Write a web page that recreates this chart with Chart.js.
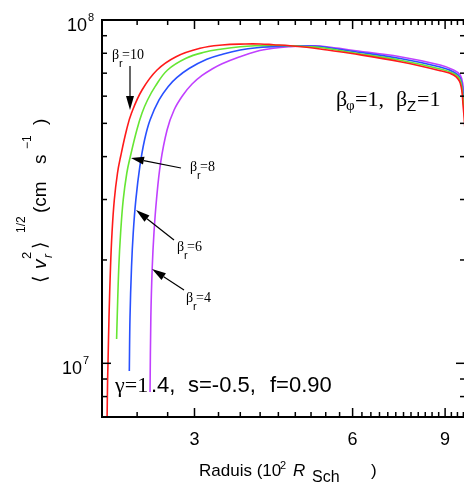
<!DOCTYPE html>
<html><head><meta charset="utf-8">
<script src="https://cdn.jsdelivr.net/npm/chart.js"></script>
<style>html,body{margin:0;padding:0;overflow:hidden;background:#fff}#wrap{width:466px;height:487px}</style>
</head><body><div id="wrap"><canvas id="c" width="466" height="487" style="width:466px;height:487px"></canvas></div>
<script>
// ---- data (x in 10^2 R_Sch, y in cm/s) ----
const xRed = [2.0443, 2.0497, 2.0533, 2.0624, 2.0760, 2.0897, 2.1108, 2.1407, 2.1691, 2.2270, 2.2763, 2.3837, 2.546, 2.767, 3.074, 3.386, 3.746, 4.000, 4.240, 4.562, 4.909, 5.204, 5.936, 7.391, 8.808, 9.338, 9.616, 9.743, 9.82];
const yRed = [6.61e6, 8.941e6, 1.0e7, 1.3643e7, 1.9079e7, 2.3965e7, 2.9911e7, 3.5838e7, 3.9895e7, 4.7825e7, 5.359e7, 6.254e7, 7.152e7, 7.819e7, 8.272e7, 8.457e7, 8.514e7, 8.514e7, 8.474e7, 8.418e7, 8.328e7, 8.234e7, 7.999e7, 7.561e7, 7.119e7, 6.916e7, 6.555e7, 5.58e7, 4.78e7];

const xGreen = [2.1322, 2.1379, 2.1529, 2.1700, 2.1949, 2.2299, 2.2633, 2.3299, 2.3837, 2.4420, 2.5238, 2.6660, 2.8909, 3.1287, 3.386, 3.665, 3.943, 4.240, 4.562, 4.909, 5.204, 5.936, 7.391, 8.808, 9.338, 9.616, 9.743, 9.82];
const yGreen = [1.1770e7, 1.3643e7, 1.9079e7, 2.3965e7, 2.9911e7, 3.5838e7, 3.9895e7, 4.7825e7, 5.359e7, 5.848e7, 6.394e7, 7.152e7, 7.736e7, 8.053e7, 8.234e7, 8.361e7, 8.418e7, 8.440e7, 8.418e7, 8.361e7, 8.317e7, 8.058e7, 7.633e7, 7.200e7, 6.986e7, 6.688e7, 5.848e7, 5.11e7];

const xBlue = [2.2544, 2.2613, 2.2763, 2.2934, 2.3197, 2.3606, 2.4100, 2.4689, 2.5684, 2.6719, 2.7790, 2.9294, 3.166, 3.405, 3.665, 3.943, 4.240, 4.562, 4.909, 5.204, 5.936, 7.391, 8.808, 9.338, 9.616, 9.743, 9.82];
const yBlue = [9.496e6, 1.3643e7, 1.9079e7, 2.3965e7, 2.9911e7, 3.7386e7, 4.4716e7, 5.1139e7, 5.848e7, 6.394e7, 6.802e7, 7.2211e7, 7.684e7, 7.962e7, 8.179e7, 8.306e7, 8.361e7, 8.401e7, 8.401e7, 8.372e7, 8.124e7, 7.727e7, 7.297e7, 7.057e7, 6.778e7, 6.129e7, 5.47e7];

const xPurple = [2.4689, 2.4776, 2.4929, 2.5116, 2.5393, 2.5854, 2.6602, 2.7432, 2.8530, 2.9682, 3.1014, 3.2400, 3.386, 3.6486, 3.9311, 4.240, 4.562, 4.909, 5.204, 5.936, 7.391, 8.808, 9.338, 9.616, 9.743, 9.82];
const yPurple = [8.249e6, 1.3643e7, 1.9079e7, 2.3965e7, 2.9911e7, 3.8322e7, 4.7825e7, 5.4686e7, 6.0453e7, 6.5113e7, 6.8938e7, 7.1973e7, 7.4561e7, 7.8028e7, 8.0964e7, 8.272e7, 8.361e7, 8.401e7, 8.401e7, 8.179e7, 7.819e7, 7.396e7, 7.152e7, 6.916e7, 6.394e7, 5.85e7];

const seriesNames = ['βr=10', 'βr=8', 'βr=6', 'βr=4'];
const xTicksMajor = [3, 6, 9];
const xTickLabels = ['3', '6', '9'];
const xTicksMinor = [2.333, 2.667, 3.333, 3.667, 4, 4.333, 4.667, 5, 5.333, 5.667, 6.25, 6.5, 6.75, 7, 7.25, 7.5, 7.75, 8, 8.25, 8.5, 8.75, 9.25, 9.5, 9.75];
const yTicksMajor = [1e7, 1e8];
const yTickBase = ['10', '10'];
const yTickExp = ['7', '8'];
const yTicksMinor = [8e6, 9e6, 2e7, 3e7, 4e7, 5e7, 6e7, 7e7, 8e7, 9e7];
const xRange = [2.0, 9.82];
const yRange = [6.976e6, 1e8];

function pts(xs, ys) { return xs.map((v, i) => ({x: v, y: ys[i]})); }

const SANS = '"Liberation Sans", Arial, sans-serif';
const SERIF = '"Liberation Serif", "Times New Roman", serif';

function txt(ctx, s, font, x, y, align) {
  ctx.font = font; ctx.textAlign = align || 'left'; ctx.textBaseline = 'alphabetic';
  ctx.fillText(s, x, y);
}
function rtxt(ctx, s, font, sx, sy) {
  ctx.save(); ctx.translate(sx, sy); ctx.rotate(-Math.PI / 2);
  ctx.font = font; ctx.textAlign = 'left'; ctx.textBaseline = 'alphabetic';
  ctx.fillText(s, 0, 0); ctx.restore();
}
function arrow(ctx, x1, y1, x2, y2, hl, hw) {
  const a = Math.atan2(y2 - y1, x2 - x1);
  const bx = x2 - hl * Math.cos(a), by = y2 - hl * Math.sin(a);
  ctx.lineWidth = 1.2;
  ctx.beginPath(); ctx.moveTo(x1, y1); ctx.lineTo(bx, by); ctx.stroke();
  ctx.beginPath(); ctx.moveTo(x2, y2);
  ctx.lineTo(bx + hw * Math.sin(a), by - hw * Math.cos(a));
  ctx.lineTo(bx - hw * Math.sin(a), by + hw * Math.cos(a));
  ctx.closePath(); ctx.fill();
}

const deco = {
  id: 'deco',
  afterDraw(chart) {
    const {ctx, chartArea: a, scales: {x, y}} = chart;
    ctx.save();
    ctx.strokeStyle = '#000'; ctx.fillStyle = '#000';
    // frame
    ctx.lineWidth = 2;
    ctx.strokeRect(a.left, a.top, a.right - a.left, a.bottom - a.top);
    // ticks
    ctx.lineWidth = 1.5;
    const ln = (x1, y1, x2, y2) => { ctx.beginPath(); ctx.moveTo(x1, y1); ctx.lineTo(x2, y2); ctx.stroke(); };
    xTicksMajor.forEach(v => { const p = x.getPixelForValue(v); ln(p, a.bottom, p, a.bottom - 9); ln(p, a.top, p, a.top + 9); });
    xTicksMinor.forEach(v => { const p = x.getPixelForValue(v); ln(p, a.bottom, p, a.bottom - 5); ln(p, a.top, p, a.top + 5); });
    yTicksMajor.forEach(v => { const p = y.getPixelForValue(v); ln(a.left, p, a.left + 9, p); ln(a.right, p, a.right - 9, p); });
    yTicksMinor.forEach(v => { const p = y.getPixelForValue(v); ln(a.left, p, a.left + 5, p); ln(a.right, p, a.right - 5, p); });
    // tick labels
    xTicksMajor.forEach((v, i) => txt(ctx, xTickLabels[i], '18px ' + SANS, x.getPixelForValue(v), a.bottom + 28, 'center'));
    yTicksMajor.forEach((v, i) => {
      const p = y.getPixelForValue(v);
      const right = (v === yRange[1]) ? a.left - 15 : a.left - 20;
      txt(ctx, yTickBase[i], '18px ' + SANS, right, p + 10.5, 'right');
      txt(ctx, yTickExp[i], '11px ' + SANS, right + 1, p + 0.5, 'left');
    });
    // x title
    txt(ctx, 'Raduis (10', '17px ' + SANS, 199, 476);
    txt(ctx, '2', '11px ' + SANS, 280, 469);
    txt(ctx, 'R', 'italic 17px ' + SANS, 293, 476);
    txt(ctx, 'Sch', '16px ' + SANS, 312, 482);
    txt(ctx, ')', '17px ' + SANS, 371, 476);
    // y title (rotated)
    rtxt(ctx, '\u27E8', '19px "DejaVu Sans", sans-serif', 46, 283);
    rtxt(ctx, 'v', 'italic 19px ' + SANS, 46, 269);
    rtxt(ctx, 'r', 'italic 12px ' + SANS, 52, 258);
    rtxt(ctx, '2', '13px ' + SANS, 31, 259);
    rtxt(ctx, '\u27E9', '19px "DejaVu Sans", sans-serif', 46, 249);
    rtxt(ctx, '1/2', '12px ' + SANS, 25, 233);
    rtxt(ctx, '(cm', '19px ' + SANS, 46, 213);
    rtxt(ctx, 's', '19px ' + SANS, 46, 164);
    rtxt(ctx, '\u22121', '12px ' + SANS, 31, 149);
    rtxt(ctx, ')', '19px ' + SANS, 46, 125);
    // parameter annotations
    txt(ctx, '\u03B3=1', '22px ' + SERIF, 115, 392);
    txt(ctx, '.4,', '22px ' + SANS, 151, 392);
    txt(ctx, 's=-0.5,', '22px ' + SANS, 188, 392);
    txt(ctx, 'f=0.90', '22px ' + SANS, 270, 392);
    txt(ctx, '\u03B2', '22px ' + SERIF, 336, 106);
    txt(ctx, '\u03C6', '15px ' + SERIF, 346, 110);
    txt(ctx, '=1,', '22px ' + SERIF, 355, 106);
    txt(ctx, '\u03B2', '22px ' + SERIF, 396, 106);
    txt(ctx, 'Z', '15px ' + SANS, 407, 111);
    txt(ctx, '=1', '22px ' + SERIF, 417, 106);
    // beta_r labels
    const bl = (xx, yy, val) => {
      txt(ctx, '\u03B2', '14px ' + SERIF, xx, yy);
      txt(ctx, 'r', '11px ' + SANS, xx + 7, yy + 8);
      txt(ctx, '=' + val, '14px ' + SERIF, xx + 10, yy);
    };
    bl(112, 59, '10');
    bl(190, 171, '8');
    bl(177, 251, '6');
    bl(186, 302, '4');
    // arrows
    arrow(ctx, 130, 66, 130, 110, 14, 4);
    arrow(ctx, 181, 168, 131, 158, 13, 4);
    arrow(ctx, 174, 240, 136, 210, 14, 4);
    arrow(ctx, 184, 290, 152, 269, 14, 4);
    ctx.restore();
  }
};

const colors = ['#ff1a1a', '#66e633', '#2850ff', '#c040ff'];
new Chart(document.getElementById('c'), {
  type: 'line',
  data: {
    datasets: [
      {label: seriesNames[0], data: pts(xRed, yRed)},
      {label: seriesNames[1], data: pts(xGreen, yGreen)},
      {label: seriesNames[2], data: pts(xBlue, yBlue)},
      {label: seriesNames[3], data: pts(xPurple, yPurple)}
    ].map((d, i) => Object.assign(d, {borderColor: colors[i], borderWidth: 1.6, pointRadius: 0, fill: false, tension: 0.4}))
  },
  options: {
    responsive: false, animation: false,
    layout: {padding: {left: 102, right: 1, top: 20, bottom: 70}},
    plugins: {legend: {display: false}, tooltip: {enabled: false}},
    scales: {
      x: {type: 'logarithmic', min: xRange[0], max: xRange[1], display: false},
      y: {type: 'logarithmic', min: yRange[0], max: yRange[1], display: false}
    }
  },
  plugins: [deco]
});
</script>
</body></html>
